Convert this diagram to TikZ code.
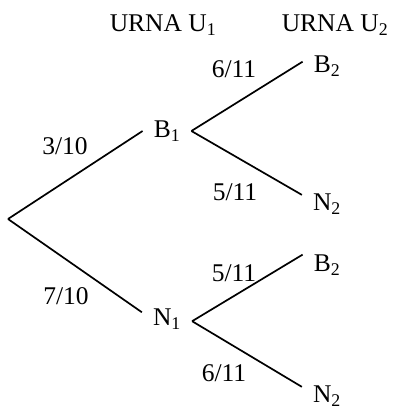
\documentclass[tikz,border=0pt]{standalone}
\usepackage{fontspec}
\setmainfont{Liberation Serif}
\usepackage{tikz}
\usetikzlibrary{positioning}

\begin{document}
\begin{tikzpicture}[
  x=1pt, y=-1pt,
  font=\fontsize{25.5}{30}\selectfont,
  event/.style={inner xsep=11pt, inner ysep=2pt},
  prob/.style={inner sep=0pt},
  head/.style={inner sep=0pt},
  branch/.style={line width=1.7pt}
]
\useasboundingbox (0,0) rectangle (393,408);

% urns
\node[head] (u1) at (163,25) {URNA U\textsubscript{1}};
\node[head] (u2) at (335,25) {URNA U\textsubscript{2}};

% events
\coordinate (o) at (8,219);
\node[event] (b1) at (167,131) {B\textsubscript{1}};
\node[event] (n1) at (167,319) {N\textsubscript{1}};
\node[event] (b2a) at (327,66) {B\textsubscript{2}};
\node[event] (n2a) at (327,204) {N\textsubscript{2}};
\node[event] (b2b) at (327,265) {B\textsubscript{2}};
\node[event] (n2b) at (327,396) {N\textsubscript{2}};

\draw[branch] (o) -- (b1.west);
\draw[branch] (o) -- (n1.165);
\draw[branch] (b1.east) -- (b2a.170);
\draw[branch] (b1.east) -- (n2a.160);
\draw[branch] (n1.-5) -- (b2b.157);
\draw[branch] (n1.-5) -- (n2b.160);

% probabilities
\node[prob] (p1) at (65,146) {3/10};
\node[prob] (p2) at (66,296) {7/10};
\node[prob] (p3) at (234,69) {6/11};
\node[prob] (p4) at (235,192) {5/11};
\node[prob] (p5) at (234,273) {5/11};
\node[prob] (p6) at (224,373) {6/11};
\end{tikzpicture}
\end{document}
